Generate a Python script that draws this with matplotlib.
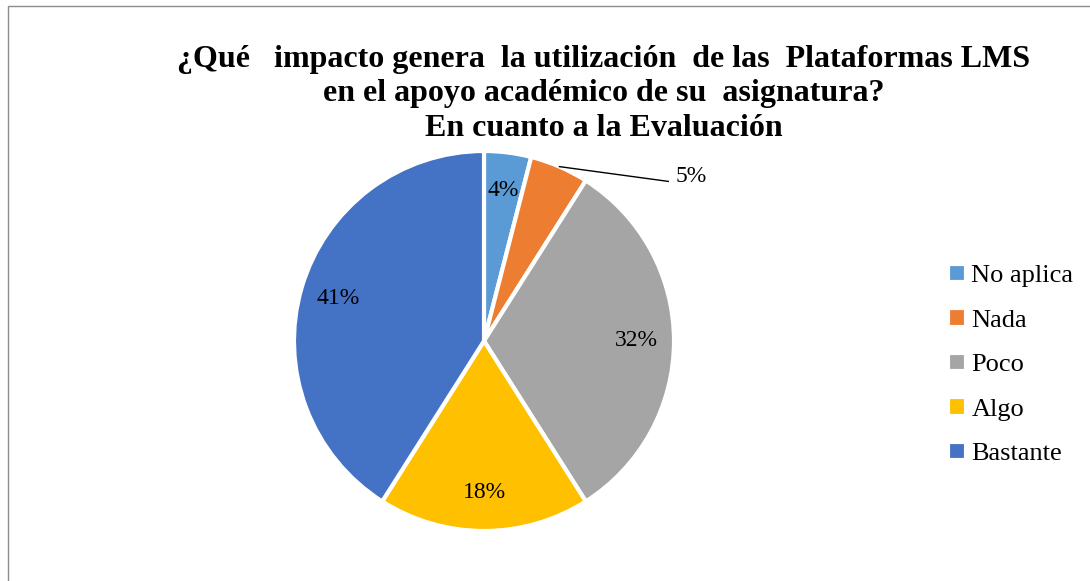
import numpy as np
import matplotlib.pyplot as plt
from matplotlib.patches import Rectangle

# datos
categorias = ['No aplica', 'Nada', 'Poco', 'Algo', 'Bastante']
porcentajes = [4, 5, 32, 18, 41]
colores = ['#5B9BD5', '#ED7D31', '#A5A5A5', '#FFC000', '#4472C4']

titulo = ('¿Qué   impacto genera  la utilización  de las  Plataformas LMS\n'
          'en el apoyo académico de su  asignatura?\n'
          'En cuanto a la Evaluación')

plt.rcParams['font.family'] = ['Liberation Serif', 'DejaVu Serif']

W, H = 1090, 581
fig = plt.figure(figsize=(W / 100, H / 100), dpi=100)

# pie: centro (484, 341) px, radio 190 px
R = 190
lim = 1.25
side = 2 * lim * R
cx, cy = 484, H - 341
ax = fig.add_axes([(cx - side / 2) / W, (cy - side / 2) / H, side / W, side / H])

wedges, textos = ax.pie(porcentajes, colors=colores, startangle=90, counterclock=False,
                        labels=[f'{p}%' for p in porcentajes], labeldistance=0.8,
                        wedgeprops=dict(edgecolor='white', linewidth=3),
                        textprops=dict(fontsize=17, ha='center', va='center'))
ax.set_xlim(-lim, lim)
ax.set_ylim(-lim, lim)
ax.set_aspect('equal')
ax.axis('off')

# etiqueta de "Nada" fuera con línea guía
w = wedges[1]
ang = np.deg2rad((w.theta1 + w.theta2) / 2)
textos[1].set_visible(False)
x0, y0 = np.cos(ang), np.sin(ang)
ax.plot([x0, 0.97], [y0, 0.84], color='black', lw=1)
ax.text(1.01, 0.865, f'{porcentajes[1]}%', fontsize=17, ha='left', va='center')

fig.text(604 / W, 1 - 45 / H, titulo, fontsize=23, fontweight='bold',
         ha='center', va='top', linespacing=1.24)

ax.legend(wedges, categorias, loc='upper left', bbox_to_anchor=(937 / W, 1 - 253 / H),
          bbox_transform=fig.transFigure, frameon=False, fontsize=19,
          handlelength=0.7, handleheight=0.7, handletextpad=0.2, labelspacing=0.8,
          borderaxespad=0)

fig.add_artist(Rectangle((8 / W, -0.1), 1.2, (H - 6) / H + 0.1, transform=fig.transFigure,
                         fill=False, edgecolor='#8c8c8c', lw=1))

fig.savefig('out.png', dpi=100)
